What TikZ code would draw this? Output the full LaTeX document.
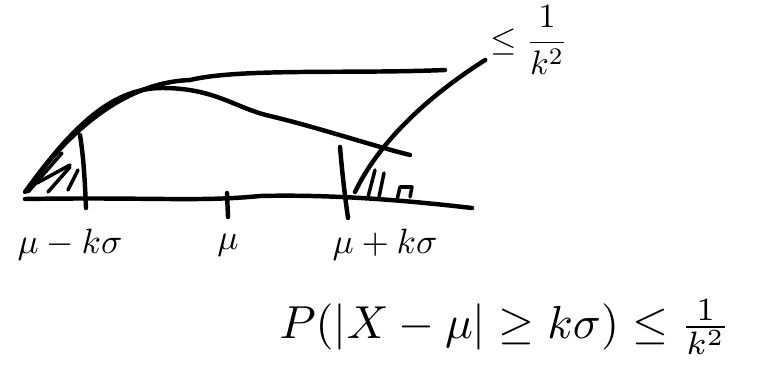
\documentclass[tikz,border=0pt]{standalone}
\usepackage{amsmath,amssymb,graphicx}
\usetikzlibrary{positioning}

\begin{document}
\begin{tikzpicture}[
  x=0.03cm, y=-0.03cm,
  pen/.style={line width=3.8pt, line cap=round, line join=round},
  hatch/.style={pen, line width=3pt},
  lbl/.style={inner sep=0pt},
]
  \useasboundingbox (0,0) rectangle (759,370);
  % axis and ticks
  \draw[pen] (25,199) .. controls (150,197) and (200,202) .. (260,196) .. controls (340,194) and (420,202) .. (472,208);
  \draw[pen] (80,135) .. controls (84,160) and (85,185) .. (86,208);
  \draw[pen] (227,193) -- (228,217);
  \draw[pen] (340,147) .. controls (342,170) and (344,190) .. (348,218);
  % the two curves
  \draw[pen] (40,172) .. controls (90,110) and (140,82) .. (190,80) .. controls (240,68) and (350,74) .. (445,70);
  \draw[pen] (25,192) .. controls (70,130) and (110,88) .. (162,88) .. controls (215,88) and (235,108) .. (270,116) .. controls (320,128) and (370,145) .. (410,155);
  % hatching
  \draw[hatch] (28,192) -- (62,153);
  \draw[hatch] (37,183) -- (70,165);
  \draw[hatch] (48,192) -- (70,167);
  \draw[hatch] (68,190) -- (78,170);
  \draw[hatch] (368,197) -- (375,170);
  \draw[hatch] (379,197) -- (384,173);
  \draw[hatch] (397,200) -- (400,187) -- (412,187) -- (410,197);
  % labels
  \node[lbl] (lo) at (70,245) {\scalebox{3}{$\mu-k\sigma$}};
  \node[lbl] (mid) at (228,245) {\scalebox{3}{$\mu$}};
  \node[lbl] (hi) at (385,245) {\scalebox{3}{$\mu+k\sigma$}};
  \node[lbl, anchor=west] (bound) at (490,40) {\scalebox{2.9}{$\leq\dfrac{1}{k^2}$}};
  \coordinate (tail) at (355,192);
  \draw[pen] (tail) .. controls (380,140) and (430,95) .. ([xshift=-4pt,yshift=-17pt]bound.west);
  \node[lbl] (law) at (505,327) {\scalebox{3.95}{$P(|X-\mu|\geq k\sigma)\leq\frac{1}{k^2}$}};
\end{tikzpicture}
\end{document}
